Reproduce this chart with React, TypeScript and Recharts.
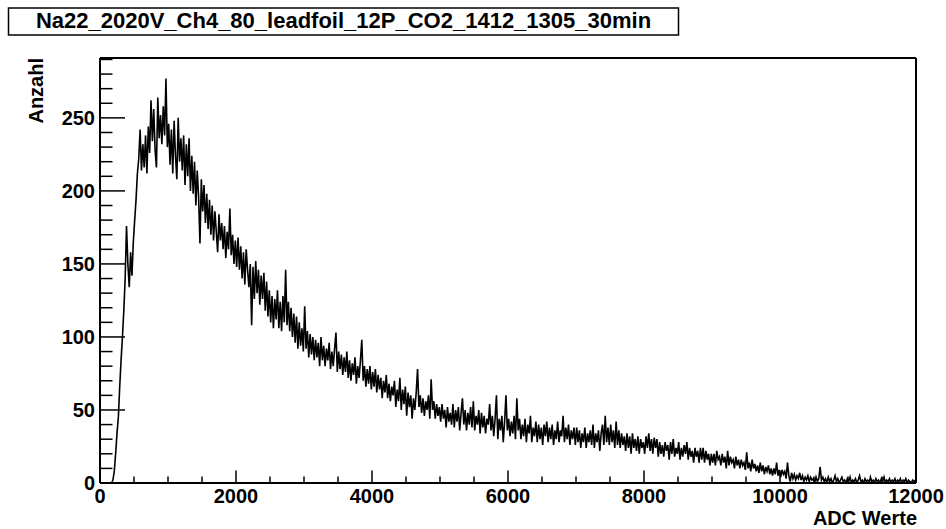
import { LineChart, Line, XAxis, YAxis } from 'recharts';

const TITLE = 'Na22_2020V_Ch4_80_leadfoil_12P_CO2_1412_1305_30min';
const X_LABEL = 'ADC Werte';
const Y_LABEL = 'Anzahl';

// bin width 20 ADC, 50 bins per 1000-wide block
const BIN_WIDTH = 20;

const counts0k = [
  0, 0, 0, 0, 0, 0, 0, 0, 0, 2,
  8, 20, 34, 45, 66, 84, 100, 118, 140, 176,
  150, 134, 158, 142, 165, 180, 194, 212, 222, 242,
  214, 232, 216, 238, 212, 244, 226, 262, 234, 256,
  228, 216, 264, 236, 252, 232, 258, 238, 277, 230,
];
const counts1k = [
  246, 218, 242, 212, 248, 224, 208, 250, 220, 236,
  214, 238, 204, 232, 210, 236, 200, 224, 198, 220,
  190, 214, 196, 164, 208, 186, 204, 178, 198, 174,
  194, 170, 190, 166, 186, 172, 158, 184, 166, 178,
  160, 176, 154, 172, 160, 188, 156, 170, 150, 166,
];
const counts2k = [
  148, 168, 146, 162, 140, 158, 136, 160, 146, 134,
  150, 108, 148, 126, 152, 130, 146, 122, 142, 126,
  144, 118, 138, 114, 132, 110, 128, 106, 126, 112,
  132, 106, 124, 104, 128, 110, 146, 108, 124, 104,
  120, 100, 116, 96, 114, 92, 110, 94, 106, 90,
];
const counts3k = [
  121, 92, 104, 86, 102, 88, 100, 84, 98, 86,
  96, 80, 100, 84, 94, 80, 92, 84, 96, 78,
  90, 80, 92, 103, 76, 90, 78, 88, 74, 86,
  76, 90, 72, 84, 70, 82, 74, 86, 68, 80,
  72, 84, 98, 70, 80, 66, 78, 68, 80, 64,
];
const counts4k = [
  76, 66, 78, 62, 74, 64, 72, 58, 70, 62,
  74, 58, 68, 56, 66, 60, 70, 52, 64, 56,
  72, 50, 64, 54, 66, 46, 62, 52, 60, 44,
  58, 50, 62, 78, 52, 60, 48, 58, 46, 56,
  50, 60, 44, 71, 50, 56, 44, 54, 46, 52,
];
const counts5k = [
  42, 54, 44, 50, 38, 52, 42, 48, 40, 54,
  38, 50, 42, 52, 36, 48, 58, 40, 50, 36,
  48, 40, 52, 38, 56, 36, 46, 40, 50, 34,
  48, 38, 46, 34, 44, 40, 54, 36, 46, 32,
  44, 60, 30, 44, 36, 46, 28, 42, 60, 36,
];
const counts6k = [
  44, 32, 42, 34, 46, 30, 58, 36, 44, 30,
  40, 32, 44, 28, 40, 34, 46, 28, 38, 32,
  42, 28, 40, 30, 38, 26, 40, 32, 42, 28,
  38, 30, 40, 26, 36, 30, 42, 28, 36, 32,
  46, 28, 38, 30, 40, 26, 36, 30, 38, 26,
];
const counts7k = [
  38, 28, 36, 24, 34, 28, 38, 24, 34, 28,
  36, 26, 40, 24, 34, 28, 36, 22, 34, 40,
  26, 46, 28, 38, 26, 40, 28, 36, 24, 42,
  26, 36, 24, 34, 26, 32, 22, 34, 24, 32,
  20, 34, 24, 30, 22, 32, 20, 30, 24, 28,
];
const counts8k = [
  20, 32, 24, 34, 22, 30, 20, 31, 24, 30,
  18, 28, 20, 26, 18, 28, 22, 26, 16, 28,
  20, 30, 18, 24, 20, 28, 16, 24, 18, 26,
  20, 28, 16, 24, 18, 22, 14, 24, 18, 22,
  14, 24, 16, 24, 14, 22, 16, 20, 12, 20,
];
const counts9k = [
  14, 20, 12, 22, 16, 18, 12, 20, 14, 18,
  10, 22, 12, 18, 14, 16, 10, 18, 12, 16,
  10, 16, 12, 14, 9, 21, 10, 14, 8, 16,
  10, 13, 8, 12, 7, 14, 8, 12, 6, 11,
  8, 12, 6, 10, 5, 10, 6, 14, 5, 9,
];
const counts10k = [
  4, 9, 6, 8, 3, 14, 5, 1, 7, 3,
  6, 2, 5, 3, 7, 2, 5, 1, 4, 2,
  5, 1, 4, 2, 3, 0, 4, 1, 3, 11,
  2, 4, 1, 3, 0, 4, 1, 3, 0, 2,
  5, 1, 3, 0, 2, 4, 1, 2, 0, 3,
];
const counts11k = [
  1, 4, 0, 2, 1, 3, 0, 2, 5, 1,
  2, 0, 3, 1, 2, 0, 4, 1, 2, 0,
  3, 1, 2, 0, 3, 1, 4, 0, 2, 1,
  3, 0, 2, 1, 3, 0, 2, 1, 3, 0,
  2, 1, 3, 0, 2, 1, 0, 2, 1, 2,
];

const X_TICKS = [
  0, 500, 1000, 1500, 2000, 2500, 3000, 3500, 4000, 4500, 5000, 5500, 6000,
  6500, 7000, 7500, 8000, 8500, 9000, 9500, 10000, 10500, 11000, 11500, 12000,
];
const Y_TICKS = [
  0, 10, 20, 30, 40, 50, 60, 70, 80, 90, 100, 110, 120, 130, 140, 150,
  160, 170, 180, 190, 200, 210, 220, 230, 240, 250, 260, 270, 280, 290,
];

const FONT = '"Liberation Sans", Arial, Helvetica, sans-serif';

const allCounts = [
  ...counts0k, ...counts1k, ...counts2k, ...counts3k,
  ...counts4k, ...counts5k, ...counts6k, ...counts7k,
  ...counts8k, ...counts9k, ...counts10k, ...counts11k,
];
const data = allCounts.map((c, i) => ({ x: i * BIN_WIDTH + BIN_WIDTH / 2, y: c }));

function XTick(props: any) {
  const { x, y, payload } = props;
  const major = payload.value % 2000 === 0;
  return (
    <g>
      <line x1={x} x2={x} y1={y} y2={y - (major ? 12.5 : 6.5)} stroke="#000" strokeWidth={1.5} />
      {major && (
        <text x={x} y={y + 20} textAnchor="middle" fontFamily={FONT} fontWeight="bold" fontSize={20} fill="#000">
          {payload.value}
        </text>
      )}
    </g>
  );
}

function YTick(props: any) {
  const { x, y, payload } = props;
  const major = payload.value % 50 === 0;
  return (
    <g>
      <line x1={x} x2={x + (major ? 25 : 12.5)} y1={y} y2={y} stroke="#000" strokeWidth={1.5} />
      {major && (
        <text x={x - 5} y={y + 7} textAnchor="end" fontFamily={FONT} fontWeight="bold" fontSize={20} fill="#000">
          {payload.value}
        </text>
      )}
    </g>
  );
}

export default function App() {
  return (
    <div style={{ position: 'absolute', left: 0, top: 0, width: 946, height: 529, background: '#fff' }}>
      <LineChart width={946} height={529} data={data} margin={{ top: 57, right: 29, bottom: 45, left: 99 }}>
        <XAxis
          dataKey="x"
          type="number"
          domain={[0, 12000]}
          ticks={X_TICKS}
          interval={0}
          height={1}
          tickSize={0}
          tickMargin={0}
          tick={<XTick />}
          axisLine={{ stroke: '#000', strokeWidth: 2 }}
          allowDataOverflow
        />
        <XAxis
          xAxisId="top"
          orientation="top"
          type="number"
          domain={[0, 12000]}
          height={1}
          tick={false}
          tickLine={false}
          axisLine={{ stroke: '#000', strokeWidth: 2 }}
        />
        <YAxis
          type="number"
          domain={[0, 291]}
          ticks={Y_TICKS}
          interval={0}
          width={1}
          tickSize={0}
          tickMargin={0}
          tick={<YTick />}
          axisLine={{ stroke: '#000', strokeWidth: 2 }}
          allowDataOverflow
        />
        <YAxis
          yAxisId="right"
          orientation="right"
          type="number"
          domain={[0, 291]}
          width={1}
          tick={false}
          tickLine={false}
          axisLine={{ stroke: '#000', strokeWidth: 2 }}
        />
        <Line
          type="linear"
          dataKey="y"
          stroke="#000"
          strokeWidth={1.6}
          dot={false}
          isAnimationActive={false}
        />
      </LineChart>
      <svg
        width={946}
        height={529}
        style={{ position: 'absolute', left: 0, top: 0, pointerEvents: 'none' }}
      >
        <rect x={8.5} y={8} width={670} height={27} fill="#fff" stroke="#000" strokeWidth={1.5} />
        <text x={343.5} y={28} textAnchor="middle" fontFamily={FONT} fontWeight="bold" fontSize={22} fill="#000">
          {TITLE}
        </text>
        <text x={917} y={525} textAnchor="end" fontFamily={FONT} fontWeight="bold" fontSize={20} fill="#000">
          {X_LABEL}
        </text>
        <text
          transform="translate(43,58) rotate(-90)"
          textAnchor="end"
          fontFamily={FONT}
          fontWeight="bold"
          fontSize={20}
          fill="#000"
        >
          {Y_LABEL}
        </text>
      </svg>
    </div>
  );
}
